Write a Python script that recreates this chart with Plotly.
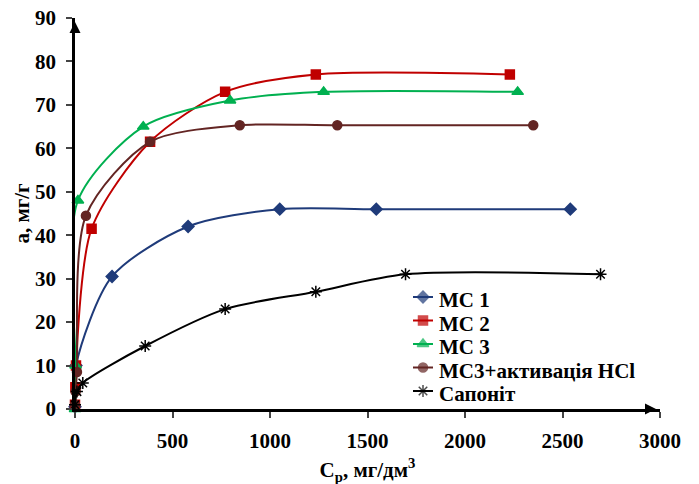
import plotly.graph_objects as go

# ---- data ----
mc1_x = [0, 5, 190, 580, 1050, 1545, 2540]
mc1_y = [0.5, 10, 30.5, 42, 46, 46, 46]

mc2_x = [0, 2, 5, 85, 385, 770, 1235, 2230]
mc2_y = [1, 5, 10, 41.5, 61.5, 73, 77, 77]

mc3_x = [0, 3, 15, 350, 795, 1275, 2270]
mc3_y = [0, 10, 48, 65, 71, 73, 73]

hcl_x = [0, 3, 10, 56, 385, 845, 1345, 2350]
hcl_y = [1, 4, 8.5, 44.5, 61.5, 65.3, 65.3, 65.3]

sap_x = [0, 10, 40, 360, 770, 1235, 1695, 2695]
sap_y = [1, 4, 6, 14.5, 23, 27, 31, 31]

names = ["МС 1", "МС 2", "МС 3", "МС3+активація HCl", "Сапоніт"]
x_ticks = [0, 500, 1000, 1500, 2000, 2500, 3000]
y_ticks = [0, 10, 20, 30, 40, 50, 60, 70, 80, 90]

FONT = "Liberation Serif"

series = [
    (mc1_x, mc1_y, names[0], "#1F3B7A", "diamond", 9),
    (mc2_x, mc2_y, names[1], "#C00000", "square", 9),
    (mc3_x, mc3_y, names[2], "#00B050", "triangle-up", 10),
    (hcl_x, hcl_y, names[3], "#632523", "circle", 9),
    (sap_x, sap_y, names[4], "#000000", "asterisk-open", 10),
]

W, H = 699, 484
OFF = 8  # page body margin
L, R, T, B = 75 - OFF, W - (660 - OFF), 18 - OFF, H - (409 - OFF)

fig = go.Figure()
for xs, ys, nm, col, sym, sz in series:
    fig.add_trace(go.Scatter(
        x=xs, y=ys, name=nm, mode="lines+markers", showlegend=False,
        line=dict(color=col, width=2, shape="spline", smoothing=0.8),
        marker=dict(color=col, symbol=sym, size=sz,
                    line=dict(color=col, width=1.5)),
        cliponaxis=False,
    ))

# axis arrowheads (decoration, page-pixel overlay axis)
fig.add_trace(go.Scatter(x=[656], y=[409], xaxis="x2", yaxis="y2", mode="markers",
                         showlegend=False, hoverinfo="skip",
                         marker=dict(symbol="arrow-right", size=11, color="black"),
                         cliponaxis=False))
fig.add_trace(go.Scatter(x=[75], y=[22], xaxis="x2", yaxis="y2", mode="markers",
                         showlegend=False, hoverinfo="skip",
                         marker=dict(symbol="arrow-up", size=11, color="black"),
                         cliponaxis=False))

# manual legend on a pixel-space overlay axis (page pixel coordinates)
leg_rows_y = [297, 320.5, 344, 367.5, 391]
sym_x0, sym_x1, txt_x = 413, 433, 437
annotations = []
for (xs, ys, nm, col, sym, sz), ry in zip(series, leg_rows_y):
    fig.add_trace(go.Scatter(
        x=[sym_x0, (sym_x0 + sym_x1) / 2, sym_x1], y=[ry, ry, ry],
        xaxis="x2", yaxis="y2", mode="lines+markers", showlegend=False, hoverinfo="skip",
        line=dict(color=col, width=2),
        marker=dict(color=col, symbol=sym, size=[0, sz, 0], line=dict(color=col, width=1.5)),
        cliponaxis=False,
    ))
    annotations.append(dict(x=txt_x, y=ry + 3, xref="x2", yref="y2", text=nm,
                            showarrow=False, xanchor="left", yanchor="middle",
                            font=dict(family=FONT, size=21, weight="bold", color="black")))

fig.update_layout(
    width=W, height=H,
    margin=dict(l=L, r=R, t=T, b=B, autoexpand=False),
    paper_bgcolor="white", plot_bgcolor="white",
    font=dict(family=FONT, size=20, color="black", weight="bold"),
    showlegend=False,
    annotations=annotations,
    xaxis=dict(range=[0, 3000], tickvals=x_ticks, ticks="outside", ticklen=6, tickwidth=2,
               showline=True, linecolor="black", linewidth=2.5, showgrid=False, zeroline=False,
               automargin=False, ticklabelstandoff=5, ticklabeloverflow="allow",
               tickfont=dict(family=FONT, size=21, weight="bold"),
               title=dict(text="C<sub>p</sub>, мг/дм<sup>3</sup>", standoff=11,
                          font=dict(family=FONT, size=21, weight="bold"))),
    yaxis=dict(range=[0, 90], tickvals=y_ticks, ticks="outside", ticklen=6, tickwidth=2,
               showline=True, linecolor="black", linewidth=2.5, showgrid=False, zeroline=False,
               automargin=False, ticklabeloverflow="allow",
               tickfont=dict(family=FONT, size=21, weight="bold"), ticklabelstandoff=6,
               title=dict(text="а, мг/г", standoff=0,
                          font=dict(family=FONT, size=21, weight="bold"))),
    xaxis2=dict(overlaying="x", range=[75, 660], visible=False, fixedrange=True),
    yaxis2=dict(overlaying="y", range=[409, 18], visible=False, fixedrange=True),
)

fig.write_html("out.html")
